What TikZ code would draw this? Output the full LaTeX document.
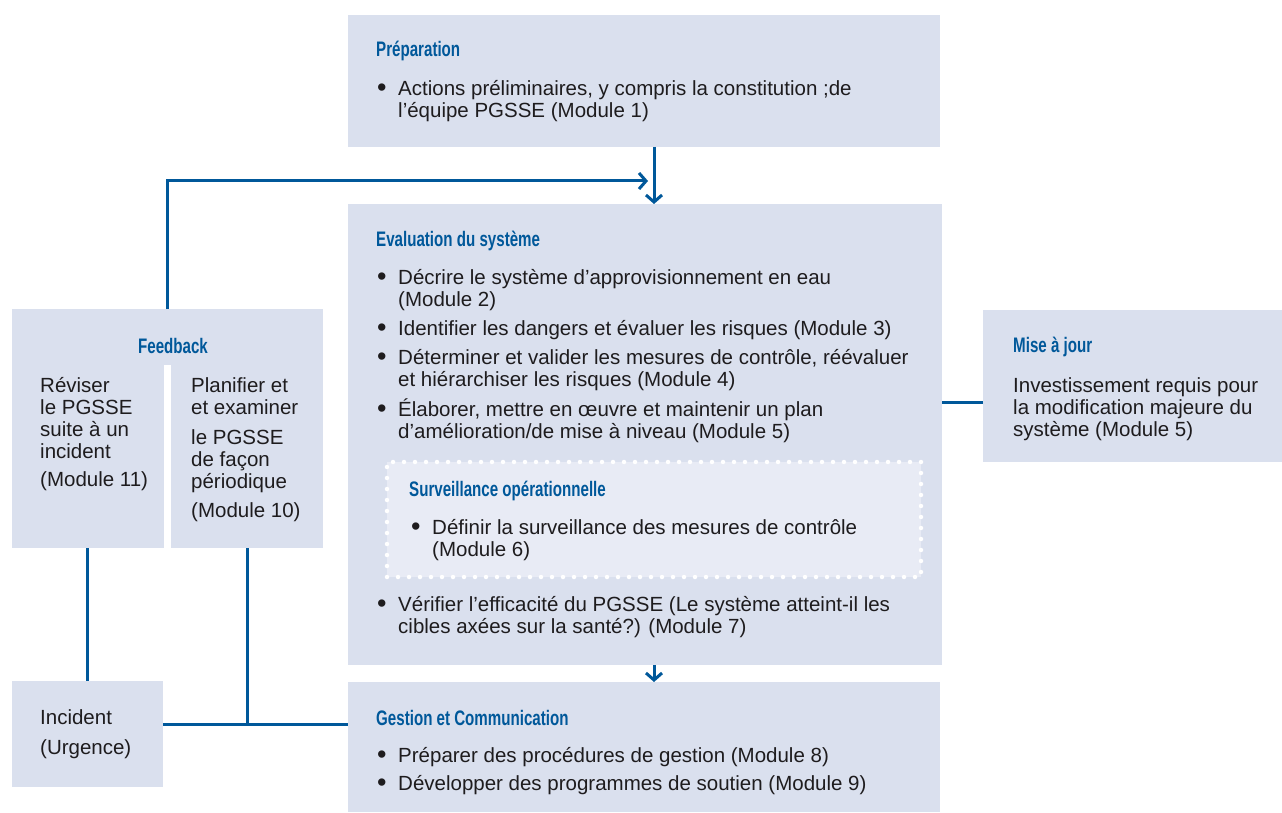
\documentclass[tikz,border=0pt]{standalone}
\usepackage{fontspec}
\setmainfont{Liberation Sans}
\newfontfamily\titlefont{Liberation Sans}[FakeStretch=0.72]
\usetikzlibrary{arrows.meta}
\definecolor{boxfill}{RGB}{218,224,238}
\definecolor{innerfill}{RGB}{232,235,245}
\definecolor{wblue}{RGB}{0,88,154}
\definecolor{txtcol}{RGB}{30,28,30}
\newcommand{\bul}{\llap{\makebox[21pt][l]{\raisebox{-1.5pt}{\fontsize{27}{22}\selectfont •}}}\rule{0pt}{20pt}}
\newcommand{\fst}{\rule{0pt}{20pt}}
\begin{document}
\begin{tikzpicture}[x=1pt,y=-1pt,
  box/.style={fill=boxfill, draw=none, inner sep=0pt, outer sep=0pt},
  body/.style={font=\fontsize{20.5}{22}\selectfont, text=txtcol, align=left, inner sep=0pt, anchor=north west},
  ttl/.style={font=\titlefont\bfseries\fontsize{21}{22}\selectfont, text=wblue, inner sep=0pt, anchor=base west},
  conn/.style={draw=wblue, line width=3pt},
  arr/.style={conn, -{Straight Barb[length=7pt,width=16pt,line width=3pt]}}]
\useasboundingbox (0,0) rectangle (1282,813);
\fill[white] (0,0) rectangle (1282,813);
% boxes
\node[box, minimum width=592, minimum height=132] (prep) at (644,81) {};
\node[box, minimum width=594, minimum height=461] (eval) at (645,434.5) {};
\node[box, minimum width=592, minimum height=130] (gest) at (644,747) {};
\node[box, minimum width=299, minimum height=152] (maj) at (1132.5,386) {};
\node[box, minimum width=311, minimum height=239] (fb) at (167.5,428.5) {};
\node[box, minimum width=151, minimum height=106] (inc) at (87.5,734) {};
\fill[white] (164,365) rectangle (171,548);
\node[fill=innerfill, draw=white, line width=4.5pt, line cap=round, dash pattern=on 0pt off 11pt, inner sep=0pt, minimum width=534, minimum height=115] (surv) at (654,519.5) {};
% connectors
\draw[arr] ([xshift=10pt]prep.south) -- ([xshift=9pt]eval.north);
\coordinate (fbend) at (648,181);
\draw[arr] (fb.north) |- (fbend);
\draw[arr] ([xshift=9pt]eval.south) -- ([xshift=10pt]gest.north);
\coordinate (mj) at (0,402);
\draw[conn] (eval.east |- mj) -- (maj.west |- mj);
\draw[conn] (fb.south -| inc.north) -- (inc.north);
\coordinate (j) at (247,724);
\draw[conn] (fb.south -| j) -- (j);
\draw[conn] (inc.east |- j) -- (gest.west |- j);
% Preparation
\node[ttl] (tprep) at (376,57) {Préparation};
\node[body] (bprep) at (398,75) {\bul Actions préliminaires, y compris la constitution ;de\\l’équipe PGSSE (Module 1)};
% Evaluation
\node[ttl] (teval) at (376,247) {Evaluation du système};
\node[body] (e1) at (398,264) {\bul Décrire le système d’approvisionnement en eau\\(Module 2)};
\node[body] (e2) at (398,315) {\bul Identifier les dangers et évaluer les risques (Module 3)};
\node[body] (e3) at (398,344) {\bul Déterminer et valider les mesures de contrôle, réévaluer\\et hiérarchiser les risques (Module 4)};
\node[body] (e4) at (398,396) {\bul Élaborer, mettre en œuvre et maintenir un plan\\d’amélioration/de mise à niveau (Module 5)};
\node[ttl] (tsurv) at (409,496) {Surveillance opérationnelle};
\node[body] (s1) at (432,514) {\bul Définir la surveillance des mesures de contrôle\\(Module 6)};
\node[body] (e5) at (398,591) {\bul Vérifier l’efficacité du PGSSE (Le système atteint-il les\\cibles axées sur la santé?) (Module 7)};
% Gestion
\node[ttl] (tgest) at (376,725) {Gestion et Communication};
\node[body] (g1) at (398,742) {\bul Préparer des procédures de gestion (Module 8)};
\node[body] (g2) at (398,770) {\bul Développer des programmes de soutien (Module 9)};
% Mise a jour
\node[ttl] (tmaj) at (1013,352) {Mise à jour};
\node[body] (bmaj) at (1013,372) {\fst Investissement requis pour\\la modification majeure du\\système (Module 5)};
% Feedback
\node[ttl, anchor=base] (tfb) at (173,353) {Feedback};
\node[body] (fbl) at (40,372) {\fst Réviser\\le PGSSE\\suite à un\\incident\\[6pt](Module 11)};
\node[body] (fbr) at (191,372) {\fst Planifier et\\et examiner\\[8pt]le PGSSE\\de façon\\périodique\\[7pt](Module 10)};
% Incident
\node[body] (binc) at (40,704) {\fst Incident\\[8pt](Urgence)};
\end{tikzpicture}
\end{document}
